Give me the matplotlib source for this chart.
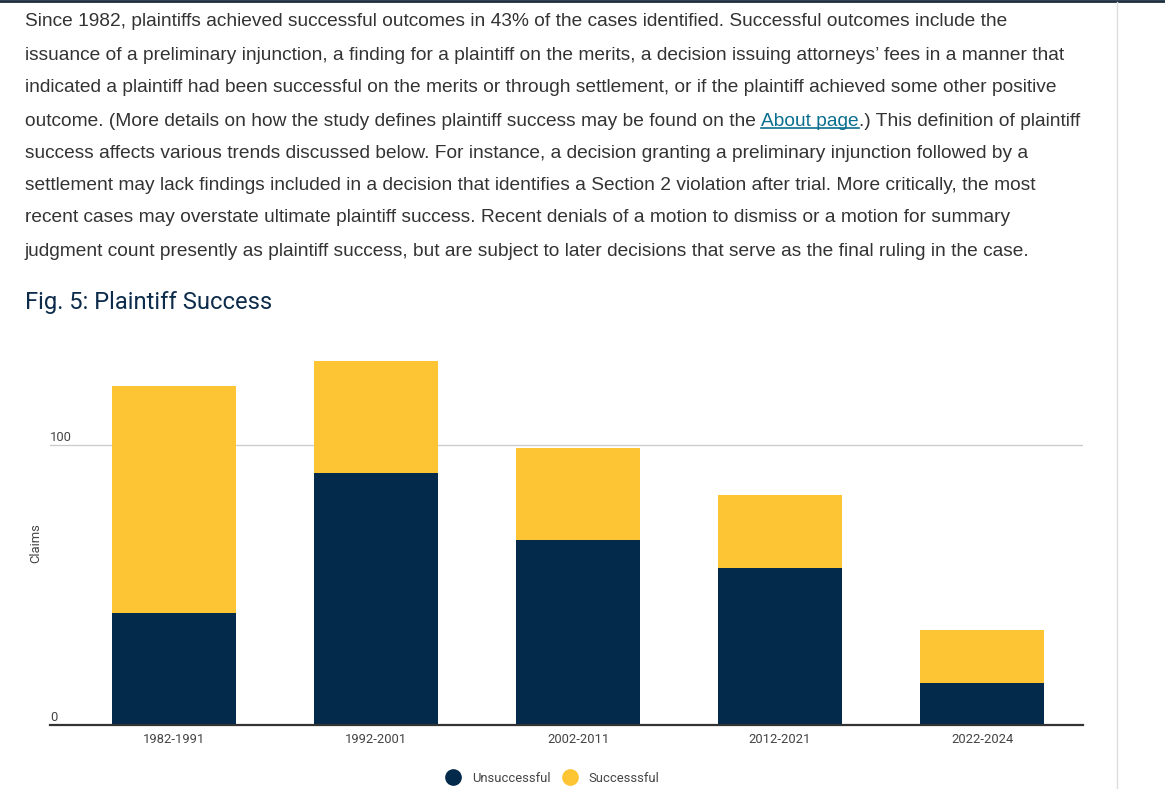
import matplotlib
matplotlib.use("Agg")
import matplotlib.pyplot as plt
from matplotlib.lines import Line2D
import numpy as np

periods = ["1982-1991", "1992-2001", "2002-2011", "2012-2021", "2022-2024"]
unsuccessful = [40, 90, 66, 56, 15]
successful = [81, 40, 33, 26, 19]
series_names = ["Unsuccessful", "Successsful"]
yticks = [0, 100]

NAVY = "#03294b"
GOLD = "#fdc533"
TXT = "#333333"
LINK = "#0a6f8e"

W, H = 1165, 789
fig = plt.figure(figsize=(W / 100, H / 100), dpi=100)

def fx(px):
    return px / W

def fy(py):
    return 1 - py / H

# page chrome
fig.add_artist(Line2D([0, 1], [fy(1), fy(1)], color="#1c2d3d", lw=2))
fig.add_artist(Line2D([fx(1117), fx(1117)], [0, fy(2)], color="#dddddd", lw=1))

para = [
    "Since 1982, plaintiffs achieved successful outcomes in 43% of the cases identified. Successful outcomes include the",
    "issuance of a preliminary injunction, a finding for a plaintiff on the merits, a decision issuing attorneys\u2019 fees in a manner that",
    "indicated a plaintiff had been successful on the merits or through settlement, or if the plaintiff achieved some other positive",
    None,
    "success affects various trends discussed below. For instance, a decision granting a preliminary injunction followed by a",
    "settlement may lack findings included in a decision that identifies a Section 2 violation after trial. More critically, the most",
    "recent cases may overstate ultimate plaintiff success. Recent denials of a motion to dismiss or a motion for summary",
    "judgment count presently as plaintiff success, but are subject to later decisions that serve as the final ruling in the case.",
]
PSIZE = 13.8
pfont = dict(family="Liberation Sans", size=PSIZE, color=TXT, va="center")
line_y = [22, 55, 88, 121, 153, 186, 218, 251]
for s, y in zip(para, line_y):
    if s is not None:
        fig.text(fx(25), fy(y), s, **pfont)

t1 = fig.text(fx(25), fy(line_y[3]),
              "outcome. (More details on how the study defines plaintiff success may be found on the ", **pfont)
t2 = fig.text(0, fy(line_y[3]), "About page", family="Liberation Sans", size=PSIZE,
              color=LINK, va="center")
t3 = fig.text(0, fy(line_y[3]), ".) This definition of plaintiff", **pfont)

fig.text(fx(25), fy(302), "Fig. 5: Plaintiff Success", family="Roboto", size=17.1,
         color="#0d2c4c", va="center")

# chart
ax = fig.add_axes([fx(50), fy(725), fx(1083) - fx(50), fy(347) - fy(725)])
x = np.arange(len(periods))
bw = 0.614
ax.bar(x, unsuccessful, bw, color=NAVY, zorder=2)
ax.bar(x, successful, bw, bottom=unsuccessful, color=GOLD, zorder=2)
ax.set_xlim(-0.614, 4.5)
ax.set_ylim(0, 135)

for s in ["top", "right", "left"]:
    ax.spines[s].set_visible(False)
ax.spines["bottom"].set_color("#333333")
ax.spines["bottom"].set_linewidth(1.6)
ax.spines["bottom"].set_zorder(3)

SMALL = 9.4
ax.set_yticks(yticks)
ax.set_yticklabels([])
ax.tick_params(axis="y", length=0)
ax.yaxis.grid(True, color="#cccccc", lw=1)
ax.set_axisbelow(True)
for v in yticks:
    ax.text(0, v + 0.4, str(v), transform=ax.get_yaxis_transform(), ha="left", va="bottom",
            family="Roboto", size=SMALL, color="#444444")

ax.set_xticks(x)
ax.set_xticklabels(periods, family="Roboto", size=SMALL, color="#444444")
ax.tick_params(axis="x", length=0, pad=6)

fig.text(fx(36), fy(543), "Claims", rotation=90, family="Roboto", size=SMALL,
         color="#444444", ha="center", va="center")

handles = [Line2D([], [], marker="o", ls="", color=c, markersize=11) for c in (NAVY, GOLD)]
leg = fig.legend(handles, series_names, loc="center", bbox_to_anchor=(fx(553), fy(778)), ncol=2,
                 frameon=False, handletextpad=0.95, columnspacing=1.0, handlelength=1.0,
                 prop=dict(family="Roboto", size=SMALL))
for t in leg.get_texts():
    t.set_color("#444444")

# place link pieces after the leading text, then underline the link
fig.canvas.draw()
r = fig.canvas.get_renderer()
b1 = t1.get_window_extent(r)
t2.set_x(b1.x1 / W)
fig.canvas.draw()
b2 = t2.get_window_extent(r)
t3.set_x(b2.x1 / W)
uy = (b2.y0 + 2) / H
fig.add_artist(Line2D([b2.x0 / W, b2.x1 / W], [uy, uy], color=LINK, lw=1.2))

fig.savefig("out.png", dpi=100)
